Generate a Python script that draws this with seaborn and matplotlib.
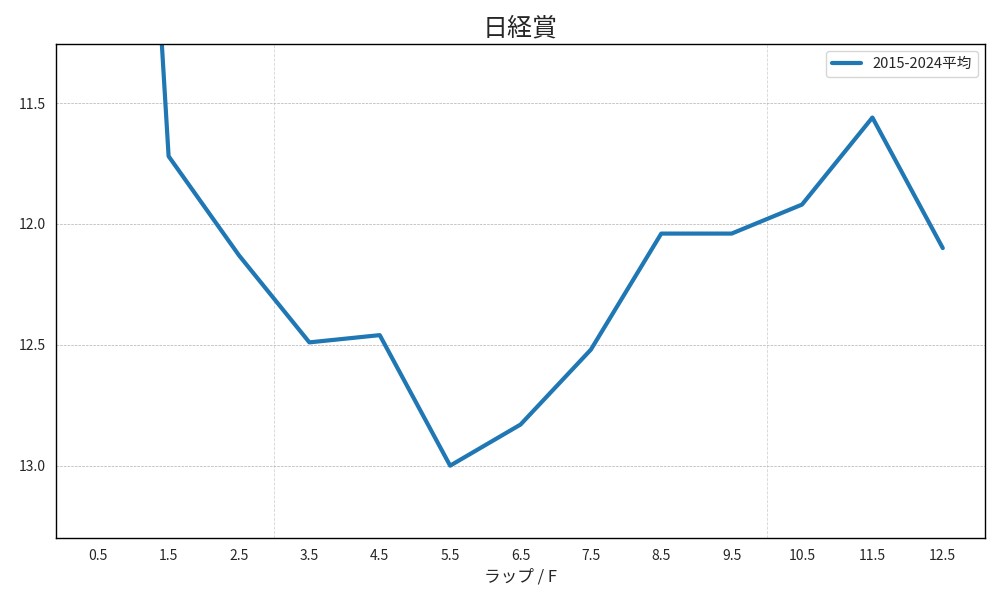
import matplotlib
matplotlib.use("Agg")
import matplotlib.pyplot as plt
import seaborn as sns
import pandas as pd

# ラップ位置(F)と2015-2024平均ラップ
furlong = [0.5, 1.5, 2.5, 3.5, 4.5, 5.5, 6.5, 7.5, 8.5, 9.5, 10.5, 11.5, 12.5]
lap_avg = [6.9, 11.72, 12.13, 12.49, 12.46, 13.0, 12.83, 12.52, 12.04, 12.04, 11.92, 11.56, 12.1]
marks = [3.0, 10.0]

sns.set_style("white")
plt.rcParams['font.family'] = ['Noto Sans CJK JP', 'DejaVu Sans']

df = pd.DataFrame({'F': furlong, 'lap': lap_avg})

fig, ax = plt.subplots(figsize=(10, 6), dpi=100)
sns.lineplot(data=df, x='F', y='lap', ax=ax, color='#1f77b4', linewidth=3,
             label='2015-2024平均')

# 区間の目安線
for m in marks:
    ax.axvline(m, color='#d5d5d5', linestyle='--', linewidth=0.6, zorder=0)
ax.yaxis.grid(True, color='#b0b0b0', linestyle='--', linewidth=0.5)

ax.set_xticks(furlong)
ax.set_xlim(-0.1, 13.1)
ax.set_ylim(13.3, 11.255)
ax.set_yticks([11.5, 12.0, 12.5, 13.0])
ax.set_xlabel('ラップ / F', fontsize=12)
ax.set_ylabel('')
ax.set_title('日経賞', fontsize=18)
for s in ax.spines.values():
    s.set_color('black')
    s.set_linewidth(1)
ax.tick_params(axis='both', length=4, color='black', labelsize=10)
ax.legend(loc='upper right', fontsize=10.5)

plt.subplots_adjust(left=0.056, right=0.985, top=0.927, bottom=0.103)
plt.savefig('out.png', dpi=100)
